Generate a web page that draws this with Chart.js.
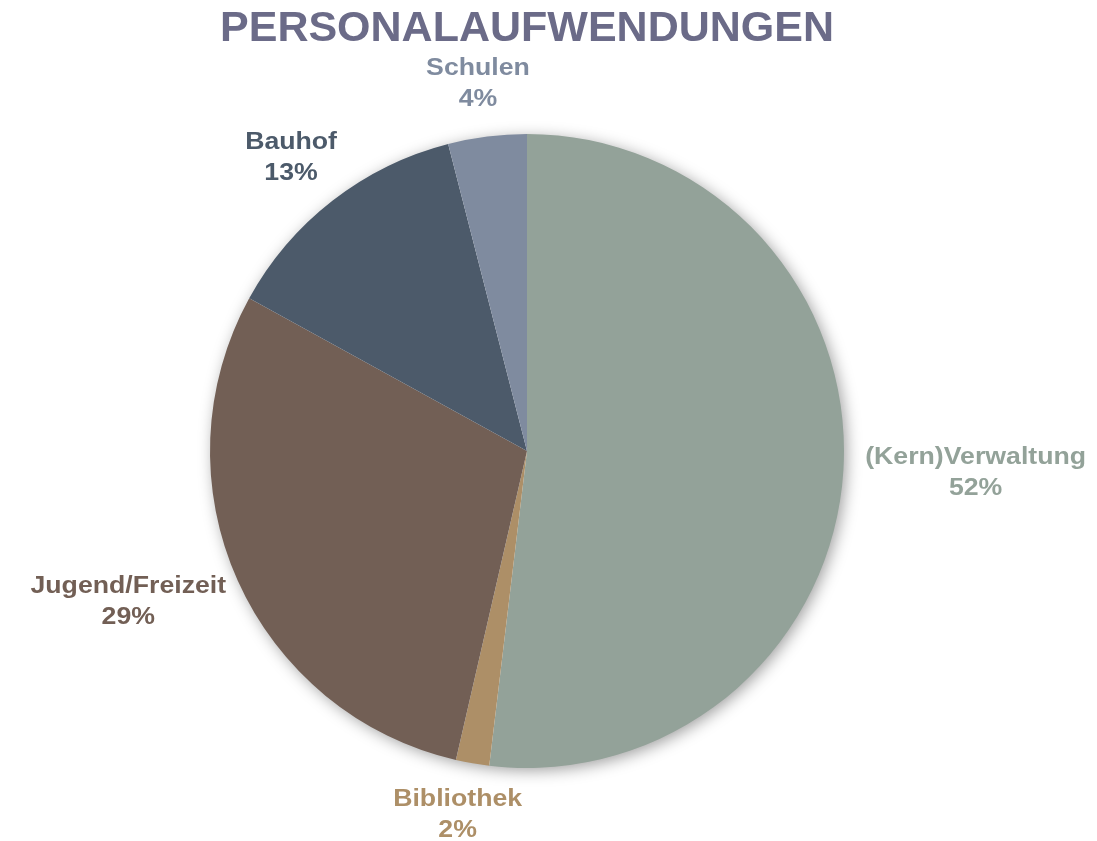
<!DOCTYPE html>
<html>
<head>
<meta charset="utf-8">
<script src="https://cdn.jsdelivr.net/npm/chart.js@4.4.1/dist/chart.umd.min.js"></script>
<style>
  html, body { margin: 0; padding: 0; background: #fff; }
  #wrap { width: 1097px; height: 841px; position: relative; }
</style>
</head>
<body>
<div id="wrap"><canvas id="chart"></canvas></div>
<script>
// Data
const chartTitle = 'PERSONALAUFWENDUNGEN';
const categories = ['(Kern)Verwaltung', 'Bibliothek', 'Jugend/Freizeit', 'Bauhof', 'Schulen'];
const shares = [51.9, 1.7, 29.4, 13.0, 4.0];
const sliceColors = ['#93a299', '#ad8f67', '#725f55', '#4c5a6a', '#7f8b9f'];

const FONT = '"Liberation Sans", Arial, sans-serif';
const LABEL_STRETCH = 1.16; // labels in the original are set a bit wide

// Soft shadow behind the whole pie
const pieShadow = {
    id: 'pieShadow',
    beforeDatasetsDraw(chart) {
        const arc = chart.getDatasetMeta(0).data[0];
        if (!arc) return;
        const ctx = chart.ctx;
        ctx.save();
        ctx.shadowColor = 'rgba(0, 0, 0, 0.4)';
        ctx.shadowBlur = 16;
        ctx.shadowOffsetX = 3;
        ctx.shadowOffsetY = 3;
        ctx.fillStyle = '#ffffff';
        ctx.beginPath();
        ctx.arc(arc.x, arc.y, arc.outerRadius - 1, 0, Math.PI * 2);
        ctx.fill();
        ctx.restore();
    }
};

// Title + outside labels
const outsideLabels = {
    id: 'outsideLabels',
    afterDraw(chart) {
        const ctx = chart.ctx;
        const meta = chart.getDatasetMeta(0);
        const area = chart.chartArea;

        ctx.save();
        ctx.fillStyle = '#6b6b88';
        ctx.font = 'bold 43px ' + FONT;
        ctx.textAlign = 'center';
        ctx.textBaseline = 'middle';
        ctx.fillText(chartTitle, (area.left + area.right) / 2, 29);

        ctx.font = 'bold 23px ' + FONT;
        const lineH = 31;
        meta.data.forEach((arc, i) => {
            const mid = (arc.startAngle + arc.endAngle) / 2;
            const cosA = Math.cos(mid), sinA = Math.sin(mid);
            const lines = [categories[i], Math.round(shares[i]) + '%'];
            const w = Math.max(...lines.map(t => ctx.measureText(t).width)) * LABEL_STRETCH;
            const h = lineH * 2;
            const r = arc.outerRadius + 22;
            const cx = arc.x + r * cosA + (w / 2) * cosA;
            const cy = arc.y + r * sinA + (h / 2) * sinA;
            ctx.fillStyle = sliceColors[i];
            lines.forEach((t, j) => {
                ctx.save();
                ctx.translate(cx, cy + (j - 0.5) * lineH);
                ctx.scale(LABEL_STRETCH, 1);
                ctx.fillText(t, 0, 0);
                ctx.restore();
            });
        });
        ctx.restore();
    }
};

new Chart(document.getElementById('chart'), {
    type: 'pie',
    data: {
        labels: categories,
        datasets: [{
            data: shares,
            backgroundColor: sliceColors,
            borderWidth: 0
        }]
    },
    options: {
        responsive: true,
        maintainAspectRatio: false,
        animation: false,
        layout: {
            padding: { left: 210, right: 253, top: 134, bottom: 73 }
        },
        plugins: {
            legend: { display: false },
            title: { display: false },
            tooltip: { enabled: false }
        }
    },
    plugins: [pieShadow, outsideLabels]
});
</script>
</body>
</html>
